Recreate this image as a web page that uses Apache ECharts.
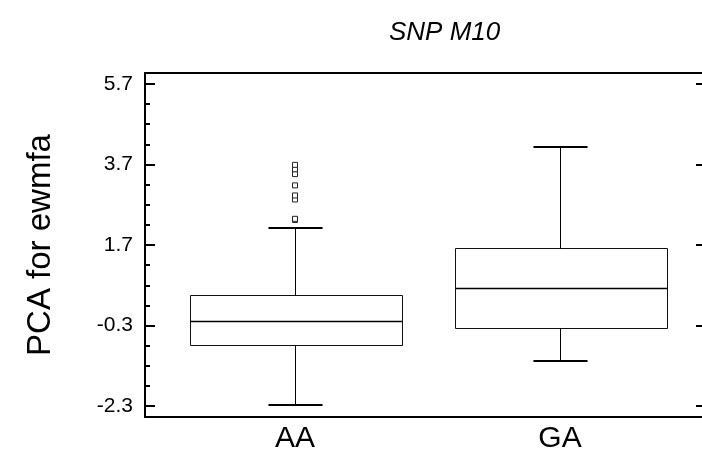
<!DOCTYPE html>
<html>
<head>
<meta charset="utf-8">
<script src="https://cdn.jsdelivr.net/npm/echarts@6/dist/echarts.min.js"></script>
<style>html,body{margin:0;padding:0;background:#fff}#c{width:702px;height:464px}</style>
</head>
<body>
<div id="c"></div>
<script>
// ---- data ----
const categories = ['AA', 'GA'];
// [min whisker, Q1, median, Q3, max whisker]
const boxAA = [-2.27, -0.78, -0.19, 0.45, 2.13];
const boxGA = [-1.17, -0.36, 0.64, 1.63, 4.13];
const outliersAA = [2.32, 2.35, 2.83, 2.93, 3.18, 3.46, 3.58, 3.69];
const outliersGA = [];
const majorTicks = [-2.3, -0.3, 1.7, 3.7, 5.7];
const minorTicks = [-1.8, -1.3, -0.8, 0.2, 0.7, 1.2, 2.2, 2.7, 3.2, 4.2, 4.7, 5.2];
const titleText = 'SNP M10';
const yName = 'PCA for ewmfa';

const boxes = [boxAA, boxGA];
const outliers = [outliersAA, outliersGA];

const boxData = boxes.map((b, i) => [i + 1].concat(b));
const outlierData = [];
outliers.forEach((arr, i) => arr.forEach(v => outlierData.push([i + 1, v])));

const FONT = 'Liberation Sans, Arial, sans-serif';
const chart = echarts.init(document.getElementById('c'), null, {renderer: 'canvas'});

function renderBox(params, api) {
  const x = api.value(0);
  const pMin = api.coord([x, api.value(1)]);
  const pQ1 = api.coord([x, api.value(2)]);
  const pMed = api.coord([x, api.value(3)]);
  const pQ3 = api.coord([x, api.value(4)]);
  const pMax = api.coord([x, api.value(5)]);
  const bw = api.size([0.8, 0])[0];
  const cw = api.size([0.204, 0])[0];
  const cx = Math.round(pMed[0]) + 0.5;
  const L = cx - bw / 2;
  const st = {stroke: '#000', lineWidth: 1, fill: null};
  const cap = {stroke: '#000', lineWidth: 2};
  const r = v => Math.round(v) + 0.5;
  return {
    type: 'group',
    children: [
      {type: 'rect', shape: {x: r(L), y: r(pQ3[1]), width: Math.round(bw), height: Math.round(pQ1[1] - pQ3[1])}, style: {stroke: '#111', lineWidth: 1, fill: '#fff'}},
      {type: 'line', shape: {x1: r(L), y1: r(pMed[1]), x2: r(L) + Math.round(bw), y2: r(pMed[1])}, style: {stroke: '#000', lineWidth: 1.3}},
      {type: 'line', shape: {x1: cx, y1: r(pQ3[1]), x2: cx, y2: Math.round(pMax[1])}, style: st},
      {type: 'line', shape: {x1: cx, y1: r(pQ1[1]), x2: cx, y2: Math.round(pMin[1])}, style: st},
      {type: 'line', shape: {x1: cx - cw / 2, y1: Math.round(pMax[1]), x2: cx + cw / 2, y2: Math.round(pMax[1])}, style: cap},
      {type: 'line', shape: {x1: cx - cw / 2, y1: Math.round(pMin[1]), x2: cx + cw / 2, y2: Math.round(pMin[1])}, style: cap}
    ]
  };
}

const yMin = -2.57, yMax = 5.97;
const xMin = 0.434, xMax = 2.551;

const option = {
  animation: false,
  backgroundColor: '#fff',
  title: {
    text: titleText,
    left: 384, top: 15,
    textStyle: {fontFamily: FONT, fontStyle: 'italic', fontWeight: 'normal', fontSize: 26, color: '#000'}
  },
  grid: {left: 145, top: 73, width: 561, height: 344, containLabel: false, outerBoundsMode: 'none'},
  xAxis: [
    {
      type: 'value', min: xMin, max: xMax, position: 'bottom',
      axisLine: {show: true, onZero: false, lineStyle: {color: '#000', width: 2}},
      axisTick: {show: false},
      splitLine: {show: false},
      axisLabel: {
        customValues: [1, 2],
        formatter: v => categories[Math.round(v) - 1] || '',
        fontFamily: FONT, fontSize: 30, color: '#000', margin: 7
      }
    },
    {
      type: 'value', min: xMin, max: xMax, position: 'top',
      axisLine: {show: true, onZero: false, lineStyle: {color: '#000', width: 2}},
      axisTick: {show: false}, axisLabel: {show: false}, splitLine: {show: false}
    }
  ],
  yAxis: [
    {
      type: 'value', min: yMin, max: yMax, position: 'left',
      name: yName, nameLocation: 'middle', nameGap: 88, nameRotate: 90,
      nameTextStyle: {fontFamily: FONT, fontSize: 33, color: '#000'},
      axisLine: {show: true, onZero: false, lineStyle: {color: '#000', width: 2}},
      axisTick: {show: true, inside: true, length: 10, customValues: majorTicks, lineStyle: {color: '#000', width: 2}},
      axisLabel: {customValues: majorTicks, formatter: v => v.toFixed(1), fontFamily: FONT, fontSize: 21, color: '#000', margin: 12},
      splitLine: {show: false}
    },
    {
      type: 'value', min: yMin, max: yMax, position: 'left', offset: 0,
      axisLine: {show: false},
      axisTick: {show: true, inside: true, length: 5, customValues: minorTicks, lineStyle: {color: '#000', width: 2}},
      axisLabel: {show: false}, splitLine: {show: false}
    },
    {
      type: 'value', min: yMin, max: yMax, position: 'right', offset: 0,
      axisLine: {show: true, onZero: false, lineStyle: {color: '#000', width: 2}},
      axisTick: {show: true, inside: true, length: 10, customValues: majorTicks, lineStyle: {color: '#000', width: 2}},
      axisLabel: {show: false}, splitLine: {show: false}
    }
  ],
  series: [
    {
      type: 'custom', xAxisIndex: 0, yAxisIndex: 0,
      renderItem: renderBox,
      encode: {x: 0, y: [1, 2, 3, 4, 5]},
      data: boxData
    },
    {
      type: 'scatter', xAxisIndex: 0, yAxisIndex: 0,
      symbol: 'rect', symbolSize: [5, 5],
      itemStyle: {color: '#fff', borderColor: '#222', borderWidth: 1, opacity: 1},
      data: outlierData
    }
  ]
};
chart.setOption(option);
</script>
</body>
</html>
